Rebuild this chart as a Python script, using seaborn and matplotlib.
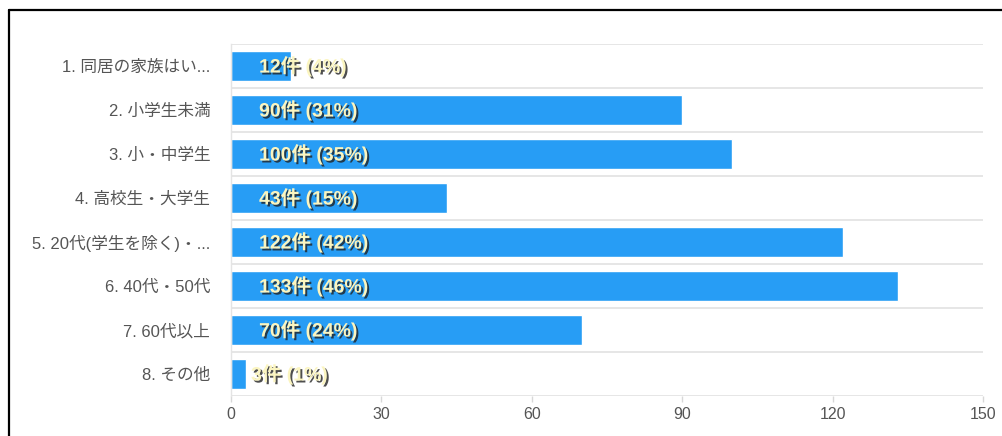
import matplotlib
matplotlib.use("Agg")
import matplotlib.pyplot as plt
import matplotlib.patheffects as pe
from matplotlib.lines import Line2D
import seaborn as sns
import pandas as pd

# data
categories = ["1. 同居の家族はい...", "2. 小学生未満", "3. 小・中学生", "4. 高校生・大学生",
              "5. 20代(学生を除く)・...", "6. 40代・50代", "7. 60代以上", "8. その他"]
counts = [12, 90, 100, 43, 122, 133, 70, 3]
percents = [4, 31, 35, 15, 42, 46, 24, 1]
x_ticks = [0, 30, 60, 90, 120, 150]

df = pd.DataFrame({"category": categories, "count": counts, "pct": percents})

sns.set_style("white")
plt.rcParams["font.family"] = ["Liberation Sans", "Noto Sans CJK JP", "DejaVu Sans"]

fig = plt.figure(figsize=(10.02, 4.36), dpi=100)
ax = fig.add_axes([231 / 1002, 1 - 396 / 436, 752 / 1002, 352 / 436])

sns.barplot(data=df, x="count", y="category", orient="h", color="#279df5",
            saturation=1, width=0.7, ax=ax)

# separators between rows
for b in range(len(categories) + 1):
    ax.axhline(b - 0.5, color="#e4e4e4", linewidth=1.3, zorder=0)

ax.set_xlim(0, 150)
ax.set_ylim(len(categories) - 0.5, -0.5)
ax.set_xticks(x_ticks)
ax.set_xlabel("")
ax.set_ylabel("")
for s in ["top", "right", "bottom"]:
    ax.spines[s].set_visible(False)
ax.spines["left"].set_color("#e4e4e4")
ax.spines["left"].set_linewidth(1.0)
ax.tick_params(axis="x", length=4, color="#d8d8d8", width=1, pad=4,
               labelsize=11.5, labelcolor="#555555", bottom=True)
ax.tick_params(axis="y", length=0, pad=15, labelsize=12, labelcolor="#555555")

# value labels inside bars
shadow = [pe.withSimplePatchShadow(offset=(1.4, -1.4), shadow_rgbFace="#222222", alpha=0.8)]
for i, (c, p) in enumerate(zip(counts, percents)):
    xpos = 5.6 if c > 6 else c + 1
    ax.text(xpos, i, f"{c}件 ({p}%)", va="center", ha="left", fontsize=14,
            fontweight="bold", color="#fbf5c0", path_effects=shadow)

# black frame on top and left of the screenshot
fig.add_artist(Line2D([9 / 1002, 1], [1 - 10 / 436, 1 - 10 / 436], color="black",
                      linewidth=1.6, transform=fig.transFigure))
fig.add_artist(Line2D([9 / 1002, 9 / 1002], [0, 1 - 10 / 436], color="black",
                      linewidth=1.6, transform=fig.transFigure))

fig.savefig("out.png", dpi=100)
